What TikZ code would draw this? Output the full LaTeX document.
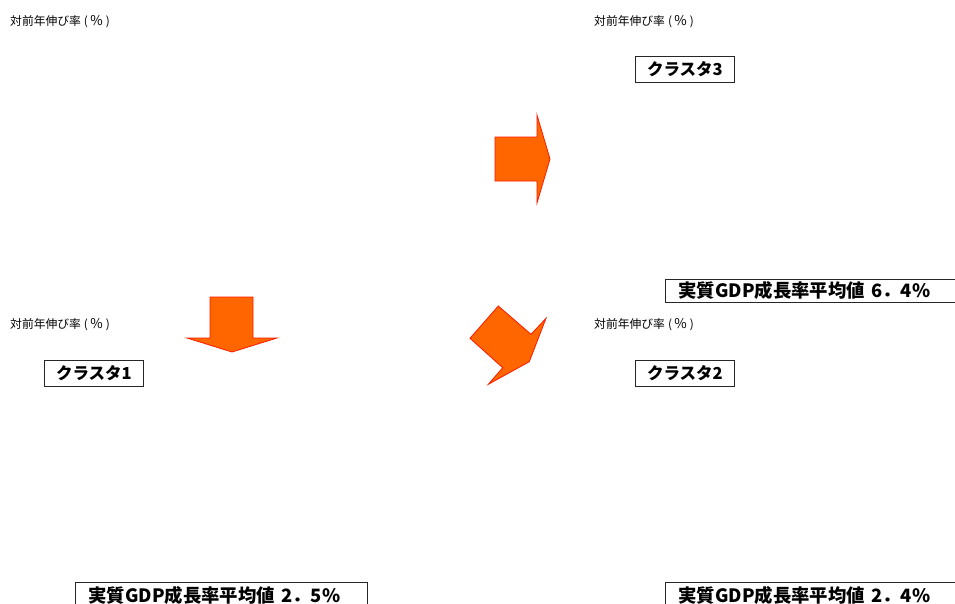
\documentclass[tikz,border=0pt]{standalone}
\usepackage{fontspec}
\newfontfamily\jp{Noto Sans CJK JP}
\definecolor{arrowfill}{HTML}{FF6600}
\definecolor{arrowline}{HTML}{FF1A00}
\newcommand{\ylabeltext}{対前年伸び率\kern3pt(\kern2.5pt{\fontsize{13.5}{14}\selectfont\%}\kern3pt)}
\begin{document}
\begin{tikzpicture}[x=1pt,y=-1pt,
  ylabel/.style={anchor=west, inner sep=0pt, font=\jp\fontsize{11.8}{14}\selectfont},
  clbox/.style={draw=black!85, line width=0.8pt, anchor=north west, inner sep=0pt,
    minimum width=99pt, minimum height=26pt, font=\jp\bfseries\fontsize{16.5}{18}\selectfont},
  gdpbox/.style={draw=black!85, line width=0.8pt, anchor=north west, inner xsep=13pt, inner ysep=0pt,
    text width=280pt, align=left, minimum height=23pt, font=\jp\bfseries\fontsize{18.4}{20}\selectfont},
  blockarrow/.style={fill=arrowfill, draw=arrowline, line width=0.8pt, line join=miter}]
\useasboundingbox (0,0) rectangle (955,603);

% axis labels
\node[ylabel] (l3) at (10,22) {\ylabeltext};
\node[ylabel] (l4) at (594,22) {\ylabeltext};
\node[ylabel] (l1) at (10,325) {\ylabeltext};
\node[ylabel] (l2) at (594,325) {\ylabeltext};

% cluster boxes
\node[clbox] (c3) at (635,56) {クラスタ3};
\node[clbox] (c2) at (635,360) {クラスタ2};
\node[clbox] (c1) at (44,360) {クラスタ1};

% GDP boxes
\node[gdpbox] (g3) at (665,279) {実質GDP成長率平均値 6．4\%};
\node[gdpbox, minimum height=26pt, text width=266pt] (g1) at (75,582) {実質GDP成長率平均値 2．5\%};
\node[gdpbox, minimum height=26pt] (g2) at (665,582) {実質GDP成長率平均値 2．4\%};

% block arrows
\draw[blockarrow] (495,137) -- (537,137) -- (537,115) -- (550,159) -- (537,203) -- (537,181) -- (495,181) -- cycle;
\draw[blockarrow] (210,297) -- (253,297) -- (253,338) -- (277,338) -- (232,352) -- (187,338) -- (210,338) -- cycle;
\draw[blockarrow] (470,338.3) -- (498.3,306) -- (531,334.3) -- (546,318.3) -- (529.3,361.7) -- (488.3,384.3) -- (502.7,367.7) -- cycle;
\end{tikzpicture}
\end{document}
